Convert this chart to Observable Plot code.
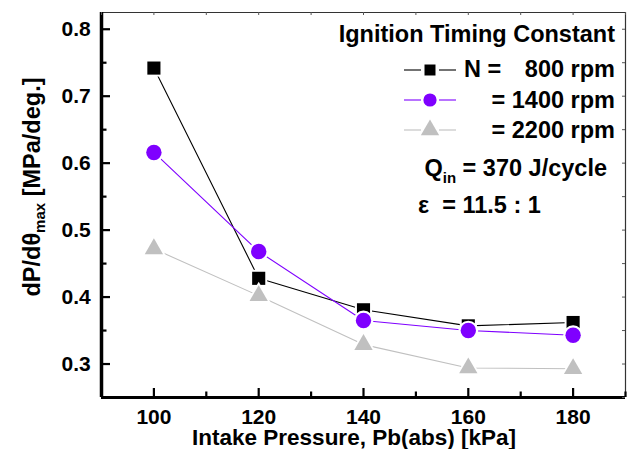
<!DOCTYPE html>
<html>
<head>
<meta charset="utf-8">
<script src="https://cdn.jsdelivr.net/npm/d3@7"></script>
<script src="https://cdn.jsdelivr.net/npm/@observablehq/plot@0.6"></script>
<style>
  html, body { margin: 0; padding: 0; background: #fff; }
</style>
</head>
<body>
<div id="chart"></div>
<script>
// ---- data ----
const pressure = [100, 120, 140, 160, 180];
const rpm800  = [0.742, 0.428, 0.381, 0.357, 0.362];
const rpm1400 = [0.616, 0.468, 0.365, 0.350, 0.343];
const rpm2200 = [0.472, 0.402, 0.329, 0.294, 0.293];
const seriesNames = ["N =", "= 1400 rpm", "= 2200 rpm"];
const seriesColors = ["#000000", "#7F00FF", "#C0C0C0"];
const xDomain = [90, 190];
const yDomain = [0.25, 0.825];
const xMajor = [100, 120, 140, 160, 180];
const xMinor = [90, 110, 130, 150, 170, 190];
const yMajor = [0.3, 0.4, 0.5, 0.6, 0.7, 0.8];
const yMinor = [0.25, 0.35, 0.45, 0.55, 0.65, 0.75];
const xTitle = "Intake Pressure, Pb(abs) [kPa]";
const legendTitle = "Ignition Timing Constant";

const FONT = "'Liberation Sans', Arial, Helvetica, sans-serif";

const W = 627, H = 449, ML = 101, MR = 2, MT = 12, MB = 52;
const pxX = (xDomain[1] - xDomain[0]) / (W - ML - MR);
const pxY = (yDomain[1] - yDomain[0]) / (H - MT - MB);

const toRows = (vals) => pressure.map((p, i) => ({p, v: vals[i]}));
const series = [
  {rows: toRows(rpm800),  color: seriesColors[0], symbol: "square",   r: 7.4},
  {rows: toRows(rpm1400), color: seriesColors[1], symbol: "circle",   r: 7.7},
  {rows: toRows(rpm2200), color: seriesColors[2], symbol: "triangle", r: 6.8}
];

const seriesMarks = series.flatMap(s => [
  Plot.line(s.rows, {x: "p", y: "v", stroke: s.color, strokeWidth: 1.1}),
  Plot.dot(s.rows, {x: "p", y: "v", symbol: s.symbol, r: s.r + 2.2, fill: "white", stroke: "none"}),
  Plot.dot(s.rows, {x: "p", y: "v", symbol: s.symbol, r: s.r, fill: s.color, stroke: "none"})
]);

const allX = [...xMajor, ...xMinor];
const allY = [...yMajor, ...yMinor];
const labelFont = {fontSize: 21, fontFamily: FONT, fontWeight: "bold"};

const chart = Plot.plot({
  width: W,
  height: H,
  marginLeft: ML,
  marginRight: MR,
  marginTop: MT,
  marginBottom: MB,
  x: {domain: xDomain},
  y: {domain: yDomain},
  marks: [
    ...seriesMarks,
    Plot.ruleY([yDomain[1]], {stroke: "#333", strokeWidth: 1}),
    Plot.ruleX([xDomain[1]], {stroke: "#333", strokeWidth: 1.2}),
    Plot.ruleX([xDomain[0]], {stroke: "black", strokeWidth: 3.5}),
    Plot.ruleY([yDomain[0]], {stroke: "black", strokeWidth: 3.2}),
    Plot.ruleX(xMajor, {x: d => d, y1: yDomain[0], y2: yDomain[0] + 9 * pxY, stroke: "black", strokeWidth: 2.2}),
    Plot.ruleX(xMinor, {x: d => d, y1: yDomain[0], y2: yDomain[0] + 5.5 * pxY, stroke: "black", strokeWidth: 2.2}),
    Plot.ruleY(yMajor, {y: d => d, x1: xDomain[0], x2: xDomain[0] + 9 * pxX, stroke: "black", strokeWidth: 2.2}),
    Plot.ruleY(yMinor, {y: d => d, x1: xDomain[0], x2: xDomain[0] + 5.5 * pxX, stroke: "black", strokeWidth: 2.2}),
    Plot.ruleX(allX, {x: d => d, y1: yDomain[1], y2: yDomain[1] - 3 * pxY, stroke: "#555", strokeWidth: 1}),
    Plot.ruleY(allY, {y: d => d, x1: xDomain[1], x2: xDomain[1] - 3 * pxX, stroke: "#555", strokeWidth: 1}),
    Plot.axisX({ticks: xMajor, tickSize: 0, tickPadding: 11.8, tickFormat: d => d, label: null, ...labelFont}),
    Plot.axisY({ticks: yMajor, tickSize: 0, tickPadding: 10.7, tickFormat: d => d.toFixed(1), label: null, ...labelFont})
  ]
});

document.getElementById("chart").appendChild(chart);

const svg = d3.select(chart)
  .attr("font-family", FONT)
  .attr("font-weight", "bold")
  .attr("font-size", 21);

// ---- titles & legend ----
const g = svg.append("g")
  .attr("font-family", FONT)
  .attr("font-weight", "bold")
  .attr("text-anchor", "start")
  .attr("fill", "black");

g.append("text").attr("x", 354).attr("y", 444.5).attr("text-anchor", "middle")
  .attr("font-size", 22.5).text(xTitle);

const yt = g.append("text")
  .attr("transform", "translate(40,187) rotate(-90)")
  .attr("text-anchor", "middle")
  .attr("font-size", 23.5);
yt.append("tspan").text("dP/dθ");
yt.append("tspan").attr("font-size", 15).attr("dy", 5).text("max");
yt.append("tspan").attr("dy", -5).text(" [MPa/deg.]");

const LF = 23.5;
g.append("text").attr("x", 615).attr("y", 42).attr("text-anchor", "end")
  .attr("font-size", LF).text(legendTitle);

const legY = [70, 100, 130];
const legSym = [d3.symbolSquare, d3.symbolCircle, d3.symbolTriangle];
const legR = [6.2, 6.6, 6.8];
series.forEach((s, i) => {
  const y = legY[i];
  g.append("line").attr("x1", 404).attr("x2", 421).attr("y1", y).attr("y2", y)
    .attr("stroke", s.color).attr("stroke-width", 1.1);
  g.append("line").attr("x1", 439).attr("x2", 456).attr("y1", y).attr("y2", y)
    .attr("stroke", s.color).attr("stroke-width", 1.1);
  g.append("path")
    .attr("d", d3.symbol(legSym[i], Math.PI * legR[i] * legR[i])())
    .attr("transform", `translate(430,${y})`)
    .attr("fill", s.color);
});
g.append("text").attr("x", 464).attr("y", 77).attr("font-size", LF).text(seriesNames[0]);
g.append("text").attr("x", 615).attr("y", 77).attr("text-anchor", "end").attr("font-size", LF).text("800 rpm");
g.append("text").attr("x", 615).attr("y", 108).attr("text-anchor", "end").attr("font-size", LF).text(seriesNames[1]);
g.append("text").attr("x", 615).attr("y", 138).attr("text-anchor", "end").attr("font-size", LF).text(seriesNames[2]);

const q = g.append("text").attr("x", 607).attr("y", 176).attr("text-anchor", "end").attr("font-size", LF);
q.append("tspan").text("Q");
q.append("tspan").attr("font-size", 15).attr("dy", 7).text("in");
q.append("tspan").attr("dy", -7).text(" = 370 J/cycle");

g.append("text").attr("x", 418).attr("y", 213).attr("font-size", LF)
  .style("white-space", "pre").text("ε  = 11.5 : 1");
</script>
</body>
</html>
